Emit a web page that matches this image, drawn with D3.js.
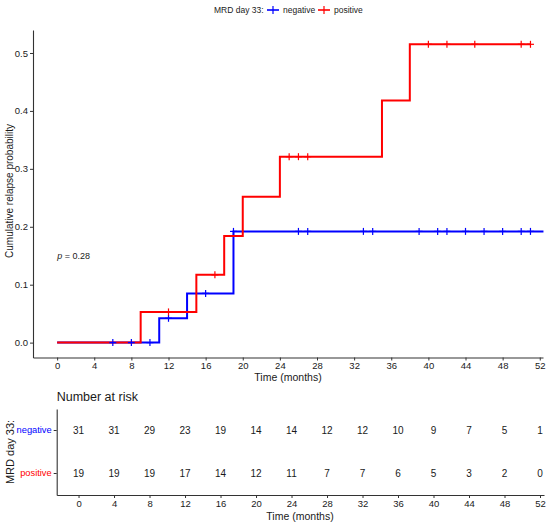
<!DOCTYPE html>
<html><head><meta charset="utf-8">
<script src="https://cdn.jsdelivr.net/npm/d3@7"></script>
<style>body{margin:0;background:#fff}svg{display:block;font-family:"Liberation Sans",Arial,sans-serif}</style>
</head><body>
<svg id="c" width="550" height="525"></svg>
<script>
// ---- data ----
const groups = ["negative", "positive"];
const negTimes = [0, 11, 14, 19, 52.4];
const negProb  = [0, 0.042, 0.085, 0.192, 0.192];
const negCensor = [6, 8, 10, 12, 16, 19, 26, 27, 33, 34, 39, 41, 42, 44, 46, 48, 50, 51];
const posTimes = [0, 9, 15, 18, 20, 24, 35, 38, 51];
const posProb  = [0, 0.053, 0.117, 0.184, 0.252, 0.321, 0.418, 0.515, 0.515];
const posCensor = [12, 17, 25, 26, 27, 40, 42, 45, 50, 51];
const xTicks = [0, 4, 8, 12, 16, 20, 24, 28, 32, 36, 40, 44, 48, 52];
const yTicks = [0, 0.1, 0.2, 0.3, 0.4, 0.5];
const riskNeg = [31, 31, 29, 23, 19, 14, 14, 12, 12, 10, 9, 7, 5, 1];
const riskPos = [19, 19, 19, 17, 14, 12, 11, 7, 7, 6, 5, 3, 2, 0];
const pLabel = "0.28";

const colors = {negative: "#0000FF", positive: "#FF0000"};
const svg = d3.select("#c");
const axisCol = "#333";
const txtCol = "#1a1a1a";

// ---- scales ----
const x = d3.scaleLinear().domain([-2.6, 52.35]).range([33, 543]);
const y = d3.scaleLinear().domain([-0.0257, 0.5397]).range([357.5, 30]);

function stepVal(times, probs, t) {
  let v = probs[0];
  for (let i = 0; i < times.length; i++) if (times[i] <= t) v = probs[i];
  return v;
}

// axes
const gx = svg.append("g").attr("transform", "translate(0,357.5)")
  .call(d3.axisBottom(x).tickValues(xTicks).tickSize(3).tickSizeOuter(0).tickPadding(2));
const gy = svg.append("g").attr("transform", "translate(33,0)")
  .call(d3.axisLeft(y).tickValues(yTicks).tickSize(3).tickSizeOuter(0).tickPadding(2).tickFormat(d3.format(".1f")));
[gx, gy].forEach(g => {
  g.select(".domain").attr("stroke", axisCol).attr("stroke-width", 1.1);
  g.selectAll(".tick line").attr("stroke", axisCol);
  g.selectAll("text").attr("fill", txtCol).style("font-size", "9.5px").style("font-family", "Liberation Sans, Arial, sans-serif");
});

// curves
const line = d3.line().x(d => x(d[0])).y(d => y(d[1])).curve(d3.curveStepAfter);
const series = [
  {g: "negative", t: negTimes, p: negProb, c: negCensor},
  {g: "positive", t: posTimes, p: posProb, c: posCensor}
];
series.forEach(s => {
  svg.append("path").datum(s.t.map((t, i) => [t, s.p[i]]))
    .attr("d", line).attr("fill", "none").attr("stroke", colors[s.g]).attr("stroke-width", 2);
});
series.forEach(s => {
  const g = svg.append("g").attr("stroke", colors[s.g]).attr("stroke-width", 1.2);
  s.c.forEach(t => {
    const cx = x(t), cy = y(stepVal(s.t, s.p, t));
    g.append("line").attr("x1", cx).attr("x2", cx).attr("y1", cy - 3.5).attr("y2", cy + 3.5);
    g.append("line").attr("x1", cx - 3.5).attr("x2", cx + 3.5).attr("y1", cy).attr("y2", cy);
  });
});

// p value
const pt = svg.append("text").attr("x", x(0)).attr("y", y(0.15)).attr("dy", "0.35em")
  .attr("fill", txtCol).style("font-size", "9px");
pt.append("tspan").attr("font-style", "italic").text("p");
pt.append("tspan").text(" = " + pLabel);

// axis titles
svg.append("text").attr("x", 288).attr("y", 377).attr("dy", "0.35em").attr("text-anchor", "middle")
  .attr("fill", txtCol).style("font-size", "10.5px").text("Time (months)");
svg.append("text").attr("transform", "translate(9,191) rotate(-90)").attr("dy", "0.35em")
  .attr("text-anchor", "middle").attr("fill", txtCol).style("font-size", "10px").text("Cumulative relapse probability");

// legend
const lg = svg.append("g").style("font-size", "8.5px");
lg.append("text").attr("x", 214).attr("y", 10).attr("dy", "0.35em").attr("fill", txtCol).text("MRD day 33:");
const legItems = [{g: "negative", sx: 273, tx: 283}, {g: "positive", sx: 324, tx: 334}];
legItems.forEach(it => {
  lg.append("line").attr("x1", it.sx - 6).attr("x2", it.sx + 6).attr("y1", 10).attr("y2", 10)
    .attr("stroke", colors[it.g]).attr("stroke-width", 1.6);
  lg.append("line").attr("x1", it.sx).attr("x2", it.sx).attr("y1", 6).attr("y2", 14)
    .attr("stroke", colors[it.g]).attr("stroke-width", 1.2);
  lg.append("text").attr("x", it.tx).attr("y", 10).attr("dy", "0.35em").attr("fill", txtCol).text(it.g);
});

// ---- risk table ----
const xt = d3.scaleLinear().domain([-2.46, 52.45]).range([56.7, 544]);
const yt = d3.scaleBand().domain(["positive", "negative"]).range([495, 409]);
const gxt = svg.append("g").attr("transform", "translate(0,495)")
  .call(d3.axisBottom(xt).tickValues(xTicks).tickSize(3).tickSizeOuter(0).tickPadding(2));
const gyt = svg.append("g").attr("transform", "translate(56.7,0)")
  .call(d3.axisLeft(yt).tickSize(3).tickSizeOuter(0).tickPadding(2));
[gxt, gyt].forEach(g => {
  g.select(".domain").attr("stroke", axisCol).attr("stroke-width", 1.1);
  g.selectAll(".tick line").attr("stroke", axisCol);
  g.selectAll("text").attr("fill", txtCol).style("font-size", "9.5px").style("font-family", "Liberation Sans, Arial, sans-serif");
});
gyt.selectAll(".tick text").attr("fill", d => colors[d]).style("font-size", "9.3px");

const rows = [{g: "negative", v: riskNeg}, {g: "positive", v: riskPos}];
rows.forEach(r => {
  svg.append("g").selectAll("text").data(r.v).join("text")
    .attr("x", (d, i) => xt(xTicks[i])).attr("y", yt(r.g) + yt.bandwidth() / 2).attr("dy", "0.35em")
    .attr("text-anchor", "middle").attr("fill", txtCol).style("font-size", "10px").text(d => d);
});
svg.append("text").attr("x", 56.7).attr("y", 397).attr("dy", "0.35em").attr("fill", txtCol)
  .style("font-size", "12.5px").text("Number at risk");
svg.append("text").attr("x", 300).attr("y", 516).attr("dy", "0.35em").attr("text-anchor", "middle")
  .attr("fill", txtCol).style("font-size", "10.5px").text("Time (months)");
svg.append("text").attr("transform", "translate(10,452) rotate(-90)").attr("dy", "0.35em")
  .attr("text-anchor", "middle").attr("fill", txtCol).style("font-size", "11px").text("MRD day 33:");
</script>
</body></html>
